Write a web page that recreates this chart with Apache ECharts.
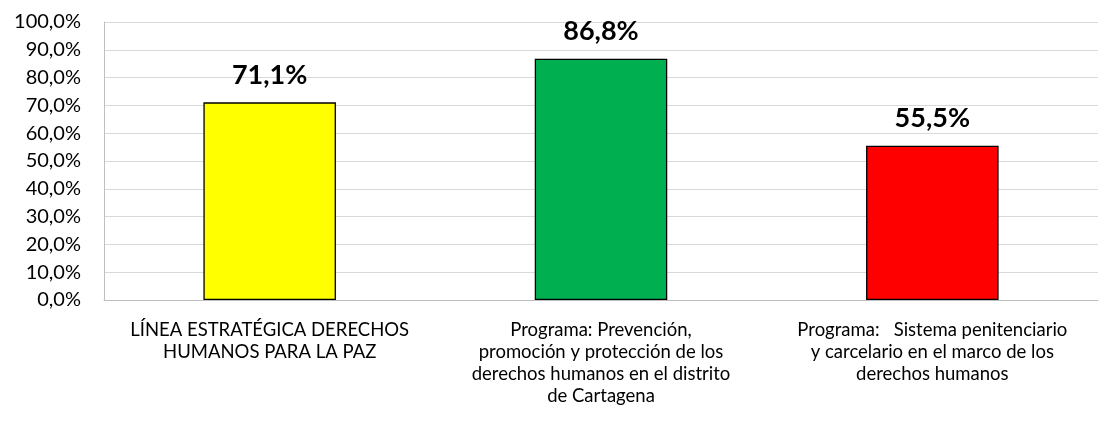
<!DOCTYPE html>
<html>
<head>
<meta charset="utf-8">
<script src="https://cdn.jsdelivr.net/npm/echarts@6/dist/echarts.min.js"></script>
<style>
html,body{margin:0;padding:0;background:#fff;}
#chart{width:1101px;height:430px;}
</style>
</head>
<body>
<div id="chart"></div>
<script>
const categories = [
  "LÍNEA ESTRATÉGICA DERECHOS\nHUMANOS PARA LA PAZ",
  "Programa: Prevención,\npromoción y protección de los\nderechos humanos en el distrito\nde Cartagena",
  "Programa:   Sistema penitenciario\ny carcelario en el marco de los\nderechos humanos"
];
const values = [71.1, 86.8, 55.5];
const barColors = ["#FFFF00", "#00B050", "#FF0000"];

const fontFamily = "Lato, 'Open Sans', sans-serif";
const fmt = v => v.toFixed(1).replace('.', ',') + '%';

const chart = echarts.init(document.getElementById('chart'), null, {renderer: 'canvas'});
chart.setOption({
  animation: false,
  backgroundColor: '#fff',
  grid: {left: 104, right: 3, top: 22, bottom: 130, containLabel: false},
  xAxis: {
    type: 'category',
    data: categories,
    axisLine: {show: true, lineStyle: {color: '#BFBFBF', width: 1}},
    axisTick: {show: false},
    axisLabel: {
      interval: 0,
      color: '#000',
      fontFamily: fontFamily,
      fontSize: 18.5,
      lineHeight: 22,
      margin: 19,
      align: 'center'
    }
  },
  yAxis: {
    type: 'value',
    min: 0,
    max: 100,
    interval: 10,
    axisLine: {show: true, lineStyle: {color: '#BFBFBF', width: 1}},
    axisTick: {show: false},
    splitLine: {show: true, lineStyle: {color: '#D9D9D9', width: 1}},
    axisLabel: {
      color: '#000',
      fontFamily: fontFamily,
      fontSize: 20,
      margin: 23,
      formatter: v => fmt(v)
    }
  },
  series: [{
    type: 'bar',
    data: values.map((v, i) => ({value: v, itemStyle: {color: barColors[i]}})),
    barWidth: '40%',
    itemStyle: {borderColor: '#000', borderWidth: 1.3},
    label: {
      show: true,
      position: 'top',
      distance: 14,
      color: '#000',
      fontFamily: fontFamily,
      fontWeight: 'bold',
      fontSize: 27,
      formatter: p => fmt(p.value)
    }
  }]
});
</script>
</body>
</html>
